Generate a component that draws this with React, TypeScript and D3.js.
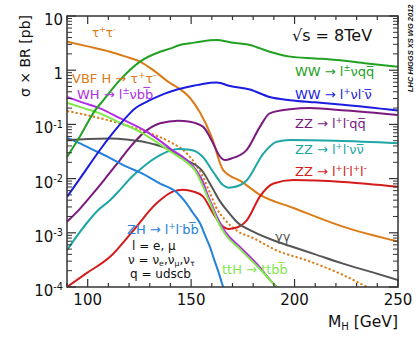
import React from 'react';
import * as d3 from 'd3';

type Pt = [number, number];

const tautau: Pt[] = [[90,3.36],[100,2.75],[110.8,2.19],[118,1.8],[125.3,1.44],[132,0.98],[139.8,0.58],[144.6,0.45],[149.4,0.31],[154.3,0.165],[159.9,0.059],[165.5,0.0144],[174.4,0.0088],[183.3,0.005],[199.2,0.0029],[223.4,0.0013],[250,0.00069]];
const vbfTautau: Pt[] = [[90,0.177],[106,0.13],[118,0.098],[130,0.069],[140,0.047],[148,0.029],[155.7,0.0108],[159.5,0.005],[162,0.003],[166,0.0018],[172,0.0011],[180,0.0008],[191,0.00048],[207,0.0003],[223.5,0.000166],[235,0.0001],[240,0.00008]];
const wwLvqq: Pt[] = [[90,0.025],[96,0.058],[103.5,0.18],[107.6,0.28],[115,0.62],[125.3,1.44],[135,2.19],[139.8,2.5],[144.6,2.92],[149.4,3.13],[155,3.4],[162.3,3.6],[168.8,3.27],[178.4,2.92],[188,2.19],[197.8,1.78],[210,1.65],[220.4,1.54],[235,1.33],[250,1.16]];
const wwLvlv: Pt[] = [[90,0.0046],[98,0.0125],[105.9,0.0337],[112,0.068],[118.9,0.139],[122,0.185],[130.1,0.28],[134.9,0.34],[139.8,0.40],[143.6,0.444],[149.4,0.50],[155,0.55],[162.3,0.59],[168.8,0.51],[178.4,0.44],[188,0.32],[197.8,0.28],[210,0.255],[223.4,0.23],[250,0.18]];
const whLvbb: Pt[] = [[90,0.32],[98,0.25],[105.9,0.198],[115.6,0.13],[127,0.079],[134,0.053],[139.8,0.036],[147.8,0.022],[152,0.015],[155.8,0.0085],[158,0.005],[160,0.0033],[163,0.0018],[166.4,0.00105],[173.6,0.00055],[182,0.00026],[191.5,0.0001],[195,0.00008]];
const tthBb: Pt[] = [[90,0.25],[98,0.2],[105.9,0.16],[115,0.11],[125.3,0.073],[133,0.048],[139.8,0.032],[147.8,0.02],[152,0.014],[155.5,0.0075],[158,0.0045],[160,0.003],[163,0.0016],[166.4,0.00095],[173.6,0.0005],[182,0.00024],[191.4,0.0001],[194,0.00008]];
const gammaGamma: Pt[] = [[90,0.0515],[100,0.054],[110.8,0.055],[120,0.052],[126.9,0.048],[133,0.042],[139.8,0.034],[147.8,0.022],[155.7,0.0134],[159,0.0082],[161,0.006],[164,0.0038],[168,0.0024],[172,0.0016],[180,0.00105],[190,0.00072],[197.8,0.00057],[210,0.0004],[223.4,0.00027],[237,0.00019],[250,0.000135]];
const zzLlqq: Pt[] = [[90,0.0016],[96,0.0027],[102,0.005],[108,0.0095],[115.6,0.022],[121,0.04],[126.9,0.069],[135,0.105],[143.7,0.117],[149.4,0.112],[155.7,0.091],[160.6,0.045],[163.5,0.027],[166.5,0.022],[169.5,0.0235],[176.9,0.034],[183.3,0.091],[188,0.16],[197.8,0.19],[207.4,0.2],[225,0.18],[250,0.149]];
const zzLlvv: Pt[] = [[90,0.00048],[99.5,0.0015],[105,0.0026],[110.8,0.004],[115.6,0.0062],[121,0.0105],[126.9,0.0166],[135,0.027],[143.7,0.035],[149.4,0.034],[155.7,0.025],[160.6,0.0134],[165.4,0.0076],[168,0.0068],[170.2,0.0069],[176.9,0.0093],[184.9,0.029],[191.4,0.048],[197.8,0.0515],[220,0.05],[250,0.045]];
const zz4l: Pt[] = [[90,0.0001],[99.5,0.00018],[110.8,0.00036],[122,0.0011],[133.3,0.0035],[141.4,0.0058],[146,0.0062],[150.9,0.0058],[155.7,0.0047],[160.6,0.0023],[165.4,0.0013],[168,0.00118],[170.2,0.0012],[176.9,0.0017],[183.3,0.0047],[189.8,0.0081],[199.4,0.0094],[223.4,0.0087],[250,0.0071]];
const zhLlbb: Pt[] = [[90,0.057],[96,0.045],[102.7,0.034],[110,0.025],[118.8,0.0166],[125.3,0.013],[135,0.0081],[143,0.0056],[147,0.0038],[151,0.0023],[154.3,0.0015],[157,0.00085],[159.1,0.00055],[160.7,0.00036],[163,0.0002],[165.5,0.0001],[167,0.00007]];

const xMajorTicks = [100, 150, 200, 250];
const xMinorTicks = [90,110,120,130,140,160,170,180,190,210,220,230,240];
const yDecades = [-4, -3, -2, -1, 0, 1];

type Part = [string, string?];

const FONT = 'DejaVu Sans, sans-serif';
const OV = '\u0305';

function Rich({ x, y, parts, size, color, anchor }: any) {
  let prev = 0;
  return (
    <text x={x} y={y} fontSize={size} fill={color} textAnchor={anchor || 'start'} fontFamily={FONT}>
      {parts.map((p: Part, i: number) => {
        const k = p[1];
        const shift = k === 'sup' ? -size * 0.38 : k === 'sub' ? size * 0.18 : 0;
        const dy = shift - prev;
        prev = shift;
        const fs = k === 'sup' || k === 'sub' ? size * 0.65 : size;
        return (
          <tspan key={i} dy={dy} fontSize={fs}>{p[0]}</tspan>
        );
      })}
    </text>
  );
}

export default function App() {
  const W = 420, H = 343;
  const L = 67, R = 398, T = 16, B = 287;
  const x = d3.scaleLinear().domain([90, 250]).range([L, R]);
  const y = d3.scaleLog().domain([1e-4, 10]).range([B, T]);
  const line = d3.line<Pt>().x(d => x(d[0])).y(d => y(d[1])).curve(d3.curveMonotoneX);

  const series = [
    { d: tautau, c: '#dc7a16' },
    { d: vbfTautau, c: '#dc7a16', dash: '2.2,2.2' },
    { d: zz4l, c: '#d41c1c' },
    { d: zzLlvv, c: '#1fa6a6' },
    { d: zzLlqq, c: '#7a1a7e' },
    { d: zhLlbb, c: '#2482dd' },
    { d: gammaGamma, c: '#555555' },
    { d: whLvbb, c: '#b12ee4' },
    { d: tthBb, c: '#80e84a' },
    { d: wwLvlv, c: '#1c1ce0' },
    { d: wwLvqq, c: '#22a022' },
  ];

  const yMinor: number[] = [];
  for (let e = -4; e < 1; e++) for (let m = 2; m <= 9; m++) yMinor.push(m * Math.pow(10, e));

  const axisColor = '#333';
  const ls = 13;
  const ns = 12;

  return (
    <svg width={W} height={H} style={{ position: 'absolute', left: 0, top: 0, background: '#fff' }}>
      <defs>
        <clipPath id="plot"><rect x={L} y={T} width={R - L} height={B - T} /></clipPath>
      </defs>
      <rect x={0} y={0} width={W} height={H} fill="#fff" />
      <g clipPath="url(#plot)">
        {series.map((s, i) => (
          <path key={i} d={line(s.d) || ''} fill="none" stroke={s.c} strokeWidth={2} strokeDasharray={s.dash} />
        ))}
      </g>
      <rect x={L} y={T} width={R - L} height={B - T} fill="none" stroke={axisColor} strokeWidth={1.5} />
      {xMajorTicks.map(v => (
        <g key={'xm' + v}>
          <line x1={x(v)} x2={x(v)} y1={B} y2={B - 8} stroke={axisColor} strokeWidth={1.2} />
          <line x1={x(v)} x2={x(v)} y1={T} y2={T + 8} stroke={axisColor} strokeWidth={1.2} />
          <text x={x(v)} y={305} fontSize={15} textAnchor="middle" fontFamily={FONT} fill="#111">{v}</text>
        </g>
      ))}
      {xMinorTicks.map(v => (
        <g key={'xn' + v}>
          <line x1={x(v)} x2={x(v)} y1={B} y2={B - 4} stroke={axisColor} strokeWidth={1.2} />
          <line x1={x(v)} x2={x(v)} y1={T} y2={T + 4} stroke={axisColor} strokeWidth={1.2} />
        </g>
      ))}
      {yDecades.map(e => {
        const v = Math.pow(10, e);
        const yy = y(v);
        return (
          <g key={'yd' + e}>
            <line x1={L} x2={L + 9} y1={yy} y2={yy} stroke={axisColor} strokeWidth={1.2} />
            <line x1={R} x2={R - 9} y1={yy} y2={yy} stroke={axisColor} strokeWidth={1.2} />
            {e === 1 ? (
              <text x={63} y={yy + 9} fontSize={15} textAnchor="end" fontFamily={FONT} fill="#111">10</text>
            ) : e === 0 ? (
              <text x={63} y={yy + 9} fontSize={15} textAnchor="end" fontFamily={FONT} fill="#111">1</text>
            ) : (
              <Rich x={63} y={yy + 9} size={15} color="#111" anchor="end" parts={[['10'], ['-' + (-e), 'sup']]} />
            )}
          </g>
        );
      })}
      {yMinor.map((v, i) => (
        <g key={'yn' + i}>
          <line x1={L} x2={L + 5} y1={y(v)} y2={y(v)} stroke={axisColor} strokeWidth={1} />
          <line x1={R} x2={R - 5} y1={y(v)} y2={y(v)} stroke={axisColor} strokeWidth={1} />
        </g>
      ))}
      <text transform="translate(30,56) rotate(-90)" fontSize={14} textAnchor="middle" fontFamily={FONT} fill="#111">σ × BR [pb]</text>
      <Rich x={398} y={327} size={15.5} color="#111" anchor="end" parts={[['M'], ['H', 'sub'], [' [GeV]']]} />
      <text transform="translate(413,92) rotate(-90)" fontSize={7.5} fontWeight="bold" fontStyle="italic" fontFamily="Liberation Sans, Arial, sans-serif" fill="#111">LHC HIGGS XS WG 2012</text>
      <text x={292} y={41} fontSize={16} fontFamily={FONT} fill="#111">√s = 8TeV</text>
      <Rich x={92} y={37} size={12} color="#dc7a16" parts={[['τ'], ['+', 'sup'], ['τ'], ['-', 'sup']]} />
      <Rich x={72} y={83} size={ls} color="#dc7a16" parts={[['VBF H → τ'], ['+', 'sup'], ['τ'], ['-', 'sup']]} />
      <Rich x={77} y={99} size={ls} color="#b12ee4" parts={[['WH → l'], ['±', 'sup'], ['νbb' + OV]]} />
      <Rich x={295} y={76} size={ls} color="#22a022" parts={[['WW → l'], ['±', 'sup'], ['νqq' + OV]]} />
      <Rich x={295} y={99} size={ls} color="#1c1ce0" parts={[['WW → l'], ['+', 'sup'], ['νl'], ['-', 'sup'], ['ν' + OV]]} />
      <Rich x={295} y={128} size={ls} color="#7a1a7e" parts={[['ZZ → l'], ['+', 'sup'], ['l'], ['-', 'sup'], ['qq' + OV]]} />
      <Rich x={295} y={154} size={ls} color="#1fa6a6" parts={[['ZZ → l'], ['+', 'sup'], ['l'], ['-', 'sup'], ['νν' + OV]]} />
      <Rich x={295} y={176} size={ls} color="#d41c1c" parts={[['ZZ → l'], ['+', 'sup'], ['l'], ['-', 'sup'], ['l'], ['+', 'sup'], ['l'], ['-', 'sup']]} />
      <text x={275} y={241} fontSize={ls} fontFamily={FONT} fill="#555">γγ</text>
      <Rich x={222} y={274} size={ls} color="#80e84a" parts={[['ttH → ttbb' + OV]]} />
      <Rich x={127} y={234} size={ls} color="#2482dd" parts={[['ZH → l'], ['+', 'sup'], ['l'], ['-', 'sup'], ['bb' + OV]]} />
      <text x={132} y={250} fontSize={ns} fontFamily={FONT} fill="#111">l = e, μ</text>
      <Rich x={128} y={263.5} size={ns} color="#111" parts={[['ν = ν'], ['e', 'sub'], [',ν'], ['μ', 'sub'], [',ν'], ['τ', 'sub']]} />
      <text x={130} y={278} fontSize={ns} fontFamily={FONT} fill="#111">q = udscb</text>
    </svg>
  );
}
